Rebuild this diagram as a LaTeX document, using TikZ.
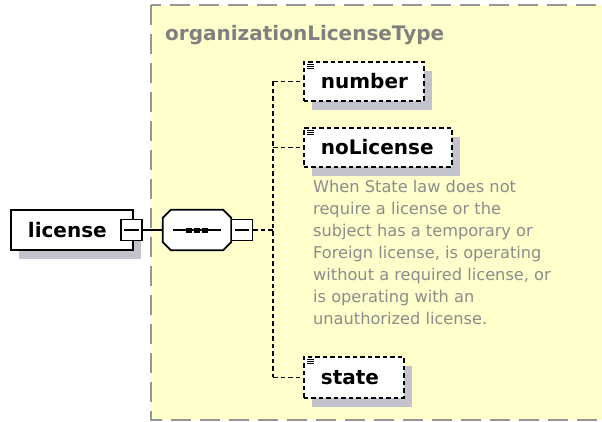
\documentclass[tikz,border=0pt]{standalone}
\usepackage{fontspec}
\setmainfont{DejaVu Sans}
\usetikzlibrary{shadows,calc}
\definecolor{bgyellow}{RGB}{255,255,204}
\definecolor{framegray}{RGB}{150,150,150}
\definecolor{titlegray}{RGB}{128,128,128}
\definecolor{descgray}{RGB}{140,140,140}
\definecolor{shadowc}{RGB}{196,194,204}
\tikzset{
  shad/.style={drop shadow={shadow xshift=8pt, shadow yshift=-9pt, fill=shadowc, opacity=1}},
  elembox/.style={draw=black, fill=white, line width=1.8pt, rectangle, anchor=north west,
     inner xsep=17pt, inner ysep=0pt, align=left, font=\fontsize{20}{24}\selectfont\bfseries, shad},
  optbox/.style={elembox, dash pattern=on 4.5pt off 3pt},
  minusbox/.style={draw=black, fill=white, line width=1.5pt, rectangle, minimum width=21pt, minimum height=21pt, inner sep=0pt},
  conn/.style={line width=1.7pt, dash pattern=on 4.5pt off 3pt},
  solidconn/.style={line width=1.6pt},
  icon/.style={line width=1pt}
}
\begin{document}
\begin{tikzpicture}[x=1pt,y=-1pt]
\useasboundingbox (0,0) rectangle (602,421);
\clip (0,0) rectangle (602,421);
% type frame
\draw[fill=bgyellow, draw=framegray, line width=1.5pt, dash pattern=on 20pt off 9pt] (151,5) rectangle (640,420);
\node[anchor=base west, text=titlegray, font=\fontsize{20}{24}\selectfont\bfseries, inner sep=0pt] (title) at (165,40) {organizationLicenseType};

% license element
\node[elembox, minimum width=122pt, minimum height=40pt, text width=88pt] (lic) at (10,209) {license};
\node[minusbox] (licm) at (131.5,230) {};
\draw[solidconn] ([xshift=4pt]licm.west) -- ([xshift=-4pt]licm.east);

% sequence compositor (octagon)
\node[rectangle, minimum width=68pt, minimum height=40pt, inner sep=0pt] (seq) at (197,230) {};
\fill[shadowc, shift={(8pt,9pt)}]
  ($(seq.north west)+(8,0)$) -- ($(seq.north east)+(-8,0)$) -- ($(seq.north east)+(0,8)$) --
  ($(seq.south east)+(0,-8)$) -- ($(seq.south east)+(-8,0)$) -- ($(seq.south west)+(8,0)$) --
  ($(seq.south west)+(0,-8)$) -- ($(seq.north west)+(0,8)$) -- cycle;
\draw[fill=white, line width=1.8pt]
  ($(seq.north west)+(8,0)$) -- ($(seq.north east)+(-8,0)$) -- ($(seq.north east)+(0,8)$) --
  ($(seq.south east)+(0,-8)$) -- ($(seq.south east)+(-8,0)$) -- ($(seq.south west)+(8,0)$) --
  ($(seq.south west)+(0,-8)$) -- ($(seq.north west)+(0,8)$) -- cycle;
\draw[solidconn] ([xshift=10pt]seq.west) -- ([xshift=-10pt]seq.east);
\foreach \dx in {-8,0,8} \fill ([xshift=\dx pt]seq.center) ++(-3pt,-2.5pt) rectangle ++(6pt,5pt);
\node[minusbox] (seqm) at (242,230) {};
\draw[solidconn] ([xshift=4pt]seqm.west) -- ([xshift=-4pt]seqm.east);

\draw[solidconn] (licm.east) -- (seq.west);

% child elements
\node[optbox, minimum width=120pt, minimum height=39pt, text width=86pt] (num) at (303,61) {number};
\node[optbox, minimum width=148pt, minimum height=39pt, text width=114pt] (nol) at (303,127) {noLicense};
\node[optbox, minimum width=100pt, minimum height=41pt, text width=66pt] (sta) at (303,356) {state};

\foreach \b in {num,nol,sta} {
  \foreach \dy in {3,5.2,7.4} \draw[icon] ([shift={(4pt,-\dy pt)}]\b.north west) -- ++(7pt,0);
}

\node[anchor=north west, text=descgray, font=\fontsize{16.2}{22}\selectfont, align=left, inner sep=0pt] (desc) at (313,180)
 {When State law does not\\require a license or the\\subject has a temporary or\\Foreign license, is operating\\without a required license, or\\is operating with an\\unauthorized license.};

% connectors
\coordinate (junc) at (273,230);
\draw[conn] (seqm.east) -- (junc);
\draw[conn] (junc |- num.west) -- (junc |- sta.west);
\draw[conn] (junc |- num.west) -- (num.west);
\draw[conn] (junc |- nol.west) -- (nol.west);
\draw[conn] (junc |- sta.west) -- (sta.west);
\end{tikzpicture}
\end{document}
